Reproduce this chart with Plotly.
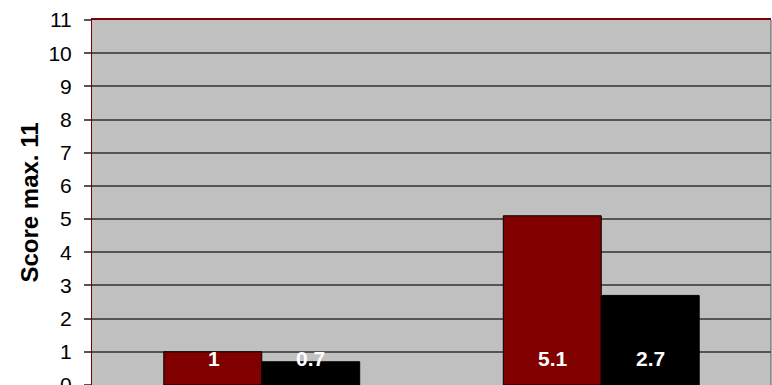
import plotly.graph_objects as go

categories = ["Group 1", "Group 2"]
series_names = ["Series 1", "Series 2"]
series_a = [1, 5.1]
series_b = [0.7, 2.7]
label_a = ["1", "5.1"]
label_b = ["0.7", "2.7"]
y_ticks = list(range(0, 12))

FONT = "Arial, Liberation Sans, sans-serif"

fig = go.Figure()
fig.add_trace(go.Bar(x=categories, y=series_a, name=series_names[0],
                     marker=dict(color="#800000", line=dict(color="#000000", width=1))))
fig.add_trace(go.Bar(x=categories, y=series_b, name=series_names[1],
                     marker=dict(color="#000000", line=dict(color="#000000", width=1))))

label_y = 0.8
for cat, la, lb in zip(categories, label_a, label_b):
    for lab, shift in ((la, -48), (lb, 49)):
        fig.add_annotation(x=cat, y=label_y, text=f"<b>{lab}</b>", showarrow=False,
                           xshift=shift, yanchor="middle",
                           font=dict(family=FONT, size=21, color="white"))

fig.update_layout(
    width=772, height=385,
    margin=dict(l=92, r=1, t=20, b=0, autoexpand=False),
    plot_bgcolor="#C0C0C0", paper_bgcolor="white",
    barmode="group", bargap=0.423, bargroupgap=0,
    showlegend=False,
    font=dict(family=FONT, color="black"),
)
fig.update_xaxes(showticklabels=False, showgrid=False, showline=True, mirror=True,
                 linecolor="#800000", linewidth=2, ticks="")
fig.update_yaxes(range=[0, 11], tickvals=y_ticks, showgrid=True, gridcolor="#555555",
                 gridwidth=1.5, zeroline=False, showline=True, linecolor="#800000",
                 linewidth=1, ticks="outside", ticklen=7, tickcolor="#555555",
                 tickwidth=1.5, tickfont=dict(family=FONT, size=21, color="black"),
                 ticklabelstandoff=8, ticklabeloverflow="allow",
                 title=dict(text="<b>Score max. 11</b>", font=dict(family=FONT, size=24),
                            standoff=3))
fig.add_shape(type="line", xref="paper", yref="paper", x0=1, x1=1, y0=0, y1=1,
              line=dict(color="#555555", width=1))

fig.write_html("out.html")
